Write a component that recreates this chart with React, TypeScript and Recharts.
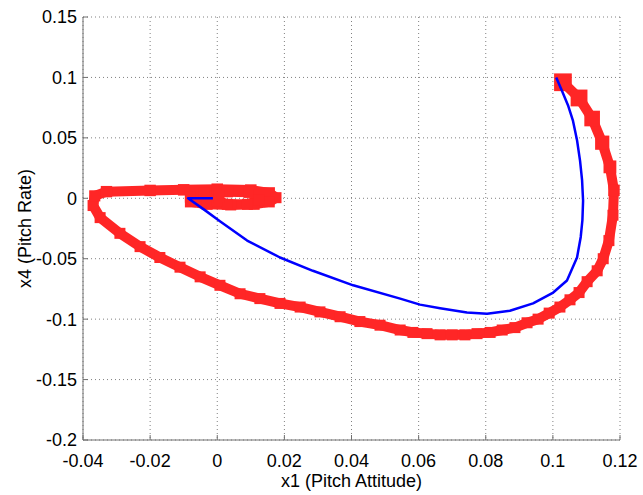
import React from 'react';
import { ScatterChart, Scatter, XAxis, YAxis, CartesianGrid } from 'recharts';

// tick positions
const attitudeTicks = [-0.04, -0.02, 0, 0.02, 0.04, 0.06, 0.08, 0.1, 0.12];
const rateTicks = [-0.2, -0.15, -0.1, -0.05, 0, 0.05, 0.1, 0.15];

// red trajectory (x1, x4)
const redAttitude = [
  0.103, 0.1078, 0.1117, 0.1147, 0.117, 0.1182, 0.1179, 0.1167, 0.115, 0.1132,
  0.1102, 0.1078, 0.1051, 0.1021, 0.0989, 0.0956, 0.0923, 0.0887, 0.0849, 0.0813,
  0.0774, 0.0738, 0.07, 0.0664, 0.0625, 0.0583, 0.0545, 0.0485, 0.0425, 0.0366,
  0.0306, 0.0247, 0.0187, 0.0127, 0.0068, 0.0008, -0.0051, -0.0111, -0.0171, -0.023,
  -0.029, -0.0349, -0.037, -0.0365, -0.033, -0.02, -0.01, 0.0, 0.01, 0.0155,
  0.0175, 0.0155, 0.011, 0.004, -0.003, -0.008, -0.008, -0.004, 0.003, 0.0095,
  0.0125, 0.0125, 0.009, 0.003, 0.0, 0.0005,
];
const redRate = [
  0.096, 0.083, 0.066, 0.046, 0.026, 0.0066, -0.014, -0.035, -0.05, -0.06,
  -0.069, -0.078, -0.084, -0.09, -0.095, -0.1, -0.103, -0.107, -0.109, -0.111,
  -0.112, -0.113, -0.113, -0.113, -0.112, -0.111, -0.109, -0.105, -0.102, -0.098,
  -0.094, -0.09, -0.087, -0.083, -0.079, -0.072, -0.065, -0.057, -0.049, -0.04,
  -0.029, -0.016, -0.006, 0.002, 0.0055, 0.0065, 0.007, 0.0075, 0.0068, 0.0045,
  0.0005, -0.003, -0.005, -0.0055, -0.005, -0.003, 0.001, 0.004, 0.0055, 0.005,
  0.0025, -0.0015, -0.005, -0.005, -0.002, 0.0015,
];

// blue trajectory (x1, x4)
const blueAttitude = [
  0.101, 0.1027, 0.1045, 0.106, 0.1072, 0.1081, 0.1087, 0.109, 0.1088, 0.1083,
  0.1072, 0.1042, 0.1001, 0.0941, 0.0872, 0.0804, 0.0744, 0.0664, 0.0604, 0.0545,
  0.0405, 0.0285, 0.0187, 0.0089, 0.0008, -0.0036, -0.0087, -0.0013,
];
const blueRate = [
  0.1, 0.089, 0.077, 0.064, 0.048, 0.031, 0.015, -0.002, -0.018, -0.032,
  -0.049, -0.068, -0.078, -0.087, -0.093, -0.0955, -0.0945, -0.091, -0.088, -0.083,
  -0.072, -0.06, -0.049, -0.035, -0.019, -0.01, 0.0, 0.0,
];

const redData = redAttitude.map((x, i) => ({ x, y: redRate[i] }));
const blueData = blueAttitude.map((x, i) => ({ x, y: blueRate[i] }));

const font = '"Liberation Sans", Arial, sans-serif';
const red = '#ff2626';

// square markers, a bit larger where the path runs fast at the start
const RedSquare = (props: any) => {
  const { cx, cy, payload } = props;
  const s = 11 + Math.max(0, payload.y) * 70;
  return <rect x={cx - s / 2} y={cy - s / 2} width={s} height={s} fill={red} />;
};

const NoMarker = () => <g />;

const YTitle = (props: any) => {
  const { viewBox } = props;
  const cx = viewBox.x + 25;
  const cy = viewBox.y + viewBox.height / 2;
  return (
    <text
      x={cx}
      y={cy}
      transform={`rotate(-90 ${cx} ${cy})`}
      textAnchor="middle"
      dominantBaseline="central"
      fontSize={18}
      fontFamily={font}
      fill="#000"
    >
      x4 (Pitch Rate)
    </text>
  );
};

export default function App() {
  return (
    <div style={{ position: 'absolute', left: 0, top: 0, background: '#fff' }}>
      <ScatterChart width={643} height={495} margin={{ top: 17, right: 23, left: 0, bottom: 0 }}>
        <CartesianGrid stroke="#808080" strokeDasharray="1 3" />
        <XAxis
          type="number"
          dataKey="x"
          domain={[-0.04, 0.12]}
          ticks={attitudeTicks}
          interval={0}
          height={55}
          stroke="#707070"
          tickSize={-5}
          tickMargin={19}
          tick={{ fill: '#000', fontSize: 18, fontFamily: font }}
          label={{
            value: 'x1 (Pitch Attitude)',
            position: 'insideBottom',
            offset: 8,
            fill: '#000',
            fontSize: 18,
            fontFamily: font,
          }}
        />
        <YAxis
          type="number"
          dataKey="y"
          domain={[-0.2, 0.15]}
          ticks={rateTicks}
          interval={0}
          width={83}
          stroke="#707070"
          tickSize={-5}
          tickMargin={11}
          tick={{ fill: '#000', fontSize: 18, fontFamily: font }}
          label={<YTitle />}
        />
        <Scatter
          data={redData}
          line={{ stroke: red, strokeWidth: 10, strokeLinejoin: 'round', strokeLinecap: 'square' }}
          shape={<RedSquare />}
          isAnimationActive={false}
        />
        <Scatter
          data={blueData}
          line={{ stroke: '#0000ff', strokeWidth: 2.5, strokeLinejoin: 'round' }}
          shape={<NoMarker />}
          isAnimationActive={false}
        />
      </ScatterChart>
    </div>
  );
}
